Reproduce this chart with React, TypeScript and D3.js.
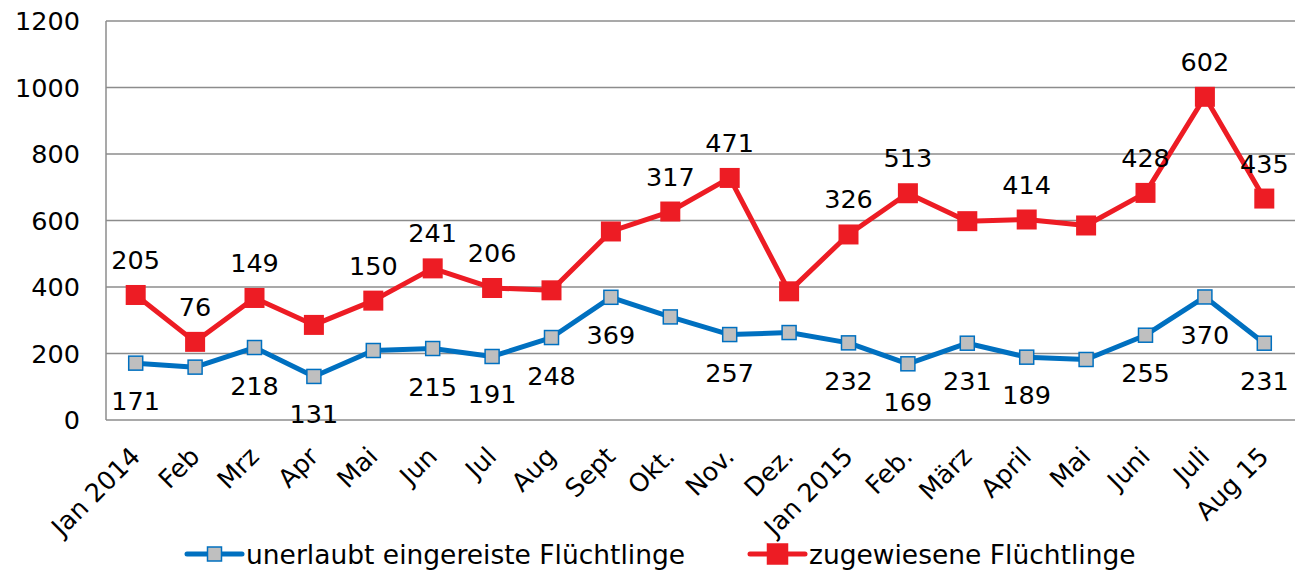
import * as d3 from "d3";
import { useRef, useEffect } from "react";

const months = ["Jan 2014", "Feb", "Mrz", "Apr", "Mai", "Jun", "Jul", "Aug", "Sept", "Okt.", "Nov.", "Dez.",
    "Jan 2015", "Feb.", "März", "April", "Mai ", "Juni", "Juli", "Aug 15"];

// unerlaubt eingereiste Flüchtlinge
const unerlaubt = [171, 159, 218, 131, 209, 215, 191, 248, 369, 310, 257, 263, 232, 169, 231, 189, 182, 255, 370, 231];
// zugewiesene Flüchtlinge (stacked on top of the blue series)
const zugewiesen = [205, 76, 149, 155, 150, 241, 206, 142, 198, 317, 471, 124, 326, 513, 367, 414, 403, 428, 602, 435];

// which data labels are shown in the original
const showBlue = [1, 0, 1, 1, 0, 1, 1, 1, 1, 0, 1, 0, 1, 1, 1, 1, 0, 1, 1, 1];
const showRed = [1, 1, 1, 0, 1, 1, 1, 0, 0, 1, 1, 0, 1, 1, 0, 1, 0, 1, 1, 1];

const yTicks = [0, 200, 400, 600, 800, 1000, 1200];

const BLUE = "#0070C0";
const RED = "#ED1C24";
const FONT = "Verdana, DejaVu Sans, sans-serif";
const FS = 25.5;

const App = () => {
    const svgRef = useRef<SVGSVGElement>(null);

    useEffect(() => {
        const width = 1295;
        const height = 570;
        const svg = d3.select(svgRef.current)
            .attr("width", width)
            .attr("height", height)
            .style("position", "absolute")
            .style("left", 0)
            .style("top", 0)
            .style("font-family", FONT);
        svg.selectAll("*").remove();

        const left = 106, top = 21, bottom = 420;

        const x = d3.scaleBand().domain(months).range([left, 1294]);
        const cx = (i: number) => (x(months[i]) as number) + x.bandwidth() / 2;
        const y = d3.scaleLinear().domain([0, 1200]).range([bottom, top]);

        const totals = unerlaubt.map((v, i) => v + zugewiesen[i]);
        const idx = d3.range(months.length);

        // grid
        svg.append("g")
            .selectAll("line")
            .data(yTicks.filter(t => t > 0))
            .enter()
            .append("line")
            .attr("x1", left)
            .attr("x2", width)
            .attr("y1", d => y(d))
            .attr("y2", d => y(d))
            .attr("stroke", "#8c8c8c")
            .attr("stroke-width", 1.5);

        // axes lines
        svg.append("line")
            .attr("x1", left).attr("x2", width)
            .attr("y1", bottom).attr("y2", bottom)
            .attr("stroke", "#8c8c8c").attr("stroke-width", 1.5);
        svg.append("line")
            .attr("x1", left).attr("x2", left)
            .attr("y1", top).attr("y2", bottom)
            .attr("stroke", "#8c8c8c").attr("stroke-width", 1.5);

        // y labels
        svg.append("g")
            .selectAll("text")
            .data(yTicks)
            .enter()
            .append("text")
            .attr("x", 80)
            .attr("y", d => y(d))
            .attr("dy", "0.36em")
            .attr("text-anchor", "end")
            .attr("font-size", FS)
            .attr("fill", "#000")
            .text(d => d);

        // x labels
        svg.append("g")
            .selectAll("text")
            .data(idx)
            .enter()
            .append("text")
            .attr("transform", i => `translate(${cx(i) + 6},${458}) rotate(-45)`)
            .attr("text-anchor", "end")
            .attr("font-size", FS)
            .attr("fill", "#000")
            .text(i => months[i].trim());

        const line = d3.line<number>()
            .x((d, i) => cx(i))
            .y(d => y(d));

        // red (stacked)
        svg.append("path")
            .datum(totals)
            .attr("fill", "none")
            .attr("stroke", RED)
            .attr("stroke-width", 5)
            .attr("stroke-linejoin", "round")
            .attr("d", line);
        svg.append("g")
            .selectAll("rect")
            .data(totals)
            .enter()
            .append("rect")
            .attr("x", (d, i) => cx(i) - 10)
            .attr("y", d => y(d) - 10)
            .attr("width", 20)
            .attr("height", 20)
            .attr("fill", RED);

        // blue
        svg.append("path")
            .datum(unerlaubt)
            .attr("fill", "none")
            .attr("stroke", BLUE)
            .attr("stroke-width", 5)
            .attr("stroke-linejoin", "round")
            .attr("d", line);
        svg.append("g")
            .selectAll("rect")
            .data(unerlaubt)
            .enter()
            .append("rect")
            .attr("x", (d, i) => cx(i) - 7)
            .attr("y", d => y(d) - 7)
            .attr("width", 14)
            .attr("height", 14)
            .attr("fill", "#BFBFBF")
            .attr("stroke", BLUE)
            .attr("stroke-width", 1.5);

        // data labels
        svg.append("g")
            .selectAll("text")
            .data(idx.filter(i => showBlue[i] === 1))
            .enter()
            .append("text")
            .attr("x", i => cx(i))
            .attr("y", i => y(unerlaubt[i]) + 47)
            .attr("text-anchor", "middle")
            .attr("font-size", FS)
            .attr("fill", "#000")
            .text(i => unerlaubt[i]);
        svg.append("g")
            .selectAll("text")
            .data(idx.filter(i => showRed[i] === 1))
            .enter()
            .append("text")
            .attr("x", i => cx(i))
            .attr("y", i => y(totals[i]) - 26)
            .attr("text-anchor", "middle")
            .attr("font-size", FS)
            .attr("fill", "#000")
            .text(i => zugewiesen[i]);

        // legend
        const legend = [
            { name: "unerlaubt eingereiste Flüchtlinge", color: BLUE, x: 187, size: 14, fill: "#BFBFBF" },
            { name: "zugewiesene Flüchtlinge", color: RED, x: 750, size: 20, fill: RED },
        ];
        const ly = 554;
        legend.forEach(l => {
            const g = svg.append("g");
            g.append("line")
                .attr("x1", l.x).attr("x2", l.x + 55)
                .attr("y1", ly).attr("y2", ly)
                .attr("stroke", l.color).attr("stroke-width", 5)
                .attr("stroke-linecap", "round");
            g.append("rect")
                .attr("x", l.x + 27.5 - l.size / 2)
                .attr("y", ly - l.size / 2)
                .attr("width", l.size)
                .attr("height", l.size)
                .attr("fill", l.fill)
                .attr("stroke", l.color)
                .attr("stroke-width", 1.5);
            g.append("text")
                .attr("x", l.x + 59)
                .attr("y", ly)
                .attr("dy", "0.36em")
                .attr("font-size", 26.5)
                .attr("fill", "#000")
                .text(l.name);
        });
    }, []);

    return (
        <div>
            <svg ref={svgRef} />
        </div>
    );
};

export default App;
